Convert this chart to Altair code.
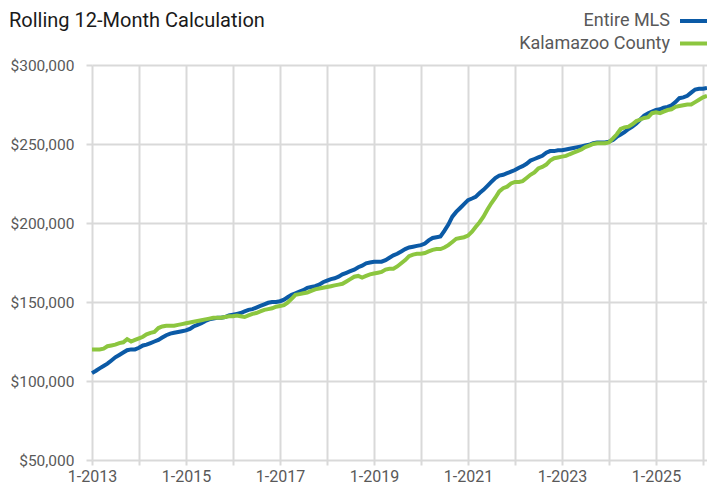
import altair as alt
import pandas as pd

title_text = "Rolling 12-Month Calculation"
series_names = ["Entire MLS", "Kalamazoo County"]
series_colors = ["#0b5aa6", "#8cc63f"]

months = pd.date_range("2013-01-01", "2026-02-01", freq="MS").strftime("%Y-%m-%d").tolist()

# values in thousands of dollars, one per month (Jan 2013 .. Feb 2026)
entire_mls_k = [
    105.0, 106.5, 108.0, 109.5, 111.0, 113.0, 115.0, 116.5, 118.0, 119.5, 120.0, 120.0,  # 2013
    121.0, 122.5, 123.0, 124.0, 125.0, 126.0, 127.5, 129.0, 130.0, 130.5, 131.0, 131.5,  # 2014
    132.0, 133.0, 134.5, 135.5, 136.5, 138.0, 139.0, 139.5, 140.0, 140.0, 140.5, 141.5,  # 2015
    142.0, 142.5, 143.0, 144.0, 145.0, 145.5, 146.5, 147.5, 148.5, 149.5, 150.0, 150.0,  # 2016
    150.5, 151.5, 153.0, 154.5, 155.5, 156.5, 157.5, 159.0, 159.5, 160.0, 161.0, 162.5,  # 2017
    163.5, 164.5, 165.0, 166.0, 167.5, 168.5, 169.5, 170.5, 172.0, 173.0, 174.5, 175.0,  # 2018
    175.5, 175.5, 175.5, 176.5, 178.0, 179.5, 180.5, 182.0, 183.5, 184.5, 185.0, 185.5,  # 2019
    186.0, 187.0, 189.0, 190.5, 191.0, 191.5, 195.0, 199.0, 204.0, 207.0, 209.5, 212.0,  # 2020
    214.5, 215.5, 216.5, 219.0, 221.0, 223.5, 226.0, 228.5, 230.0, 230.5, 231.5, 232.5,  # 2021
    233.5, 235.0, 236.0, 237.5, 239.5, 240.5, 241.5, 242.5, 244.5, 245.5, 245.5, 246.0,  # 2022
    246.0, 246.5, 247.0, 247.5, 248.0, 248.5, 249.0, 249.5, 250.5, 251.0, 251.0, 251.0,  # 2023
    251.5, 252.5, 254.5, 256.0, 257.5, 259.5, 261.0, 263.0, 265.5, 268.0, 269.5, 270.5,  # 2024
    271.5, 272.0, 273.0, 273.5, 274.5, 276.5, 279.0, 279.5, 280.5, 282.5, 284.5, 285.0,  # 2025
    285.0, 285.5,                                                                          # 2026
]

kalamazoo_k = [
    120.0, 120.0, 120.0, 120.5, 122.0, 122.5, 123.0, 124.0, 124.5, 126.5, 125.0, 126.0,  # 2013
    127.0, 128.0, 129.5, 130.5, 131.0, 133.5, 134.5, 135.0, 135.0, 135.0, 135.5, 136.0,  # 2014
    136.5, 137.0, 137.5, 138.0, 138.5, 139.0, 139.5, 140.0, 140.0, 140.0, 140.5, 141.0,  # 2015
    141.0, 141.5, 141.0, 140.5, 141.5, 142.5, 143.0, 144.0, 145.0, 145.5, 146.0, 147.0,  # 2016
    147.5, 148.0, 149.5, 152.0, 154.5, 155.0, 155.5, 156.0, 157.0, 158.0, 158.5, 159.0,  # 2017
    159.5, 160.0, 160.5, 161.0, 161.5, 163.0, 164.5, 166.0, 166.5, 165.5, 166.5, 167.5,  # 2018
    168.0, 168.5, 169.0, 170.5, 171.0, 171.0, 172.5, 174.5, 176.5, 179.0, 180.0, 180.5,  # 2019
    180.5, 181.0, 182.0, 183.0, 183.5, 183.5, 184.5, 186.0, 188.0, 190.0, 190.5, 191.0,  # 2020
    192.0, 194.5, 197.5, 200.5, 204.0, 208.5, 212.5, 216.0, 220.0, 222.0, 223.0, 225.0,  # 2021
    226.0, 226.0, 226.5, 228.5, 230.5, 232.0, 234.5, 235.5, 237.0, 239.5, 241.0, 241.5,  # 2022
    242.0, 242.5, 243.5, 244.5, 245.5, 246.5, 248.0, 249.0, 250.0, 250.5, 250.5, 250.5,  # 2023
    251.0, 253.5, 256.0, 259.5, 260.5, 261.0, 262.5, 264.5, 265.5, 266.5, 267.0, 269.5,  # 2024
    270.0, 269.5, 270.5, 271.5, 272.0, 273.5, 274.0, 274.5, 275.0, 275.0, 276.5, 278.0,  # 2025
    279.5, 280.5,                                                                          # 2026
]

y_ticks = [50000, 100000, 150000, 200000, 250000, 300000]
tick_years = list(range(2013, 2027))

assert len(months) == len(entire_mls_k) == len(kalamazoo_k)

FONT = "Roboto, sans-serif"
GRID = "#d9d9d9"
LABEL = "#595959"

df_mls = pd.DataFrame({"date": months, "value": [v * 1000 for v in entire_mls_k]})
df_kal = pd.DataFrame({"date": months, "value": [v * 1000 for v in kalamazoo_k]})

x_enc = alt.X(
    "date:T",
    title=None,
    scale=alt.Scale(
        type="utc",
        domain=[alt.DateTime(year=2013, month=1, date=1, utc=True),
                alt.DateTime(year=2026, month=2, date=1, utc=True)],
    ),
    axis=alt.Axis(
        values=[alt.DateTime(year=y, month=1, date=1, utc=True) for y in tick_years],
        labelExpr="utcyear(datum.value) % 2 == 1 ? '1-' + utcyear(datum.value) : ''",
        grid=True, gridColor=GRID, gridWidth=2,
        ticks=True, tickColor=GRID, tickWidth=2, tickSize=5,
        domain=False,
        labelFont=FONT, labelFontSize=16, labelColor=LABEL, labelPadding=3,
        labelFlush=False, labelOverlap=False,
    ),
)
y_enc = alt.Y(
    "value:Q",
    title=None,
    scale=alt.Scale(domain=[50000, 300000], nice=False, zero=False),
    axis=alt.Axis(
        values=y_ticks, format="$,.0f",
        grid=True, gridColor=GRID, gridWidth=2,
        ticks=True, tickColor=GRID, tickWidth=2, tickSize=6,
        domain=False,
        labelFont=FONT, labelFontSize=15.5, labelColor=LABEL, labelPadding=12,
    ),
)

line_mls = alt.Chart(df_mls).mark_line(strokeWidth=4, color=series_colors[0]).encode(x=x_enc, y=y_enc)
line_kal = alt.Chart(df_kal).mark_line(strokeWidth=4, color=series_colors[1]).encode(x=x_enc, y=y_enc)

one = pd.DataFrame({"k": [0]})

title_mark = alt.Chart(one).mark_text(
    text=title_text, font=FONT, fontSize=20, color="#1a1a1a", align="left", baseline="alphabetic"
).encode(x=alt.value(-83), y=alt.value(-38))

legend_layers = []
for i, (name, col) in enumerate(zip(series_names, series_colors)):
    yy = -44 + i * 22.5
    legend_layers.append(
        alt.Chart(one).mark_text(
            text=name, font=FONT, fontSize=18, color=LABEL, align="right", baseline="middle"
        ).encode(x=alt.value(578), y=alt.value(yy))
    )
    legend_layers.append(
        alt.Chart(one).mark_rule(color=col, strokeWidth=4).encode(
            x=alt.value(588), x2=alt.value(615), y=alt.value(yy)
        )
    )

chart = alt.layer(line_mls, line_kal, title_mark, *legend_layers).properties(
    width=615,
    height=395,
    padding={"left": 84, "top": 57, "right": 0, "bottom": 28},
    autosize="none",
).configure_view(strokeWidth=0)

chart.save("out.html", embed_options={"renderer": "svg", "actions": False})
